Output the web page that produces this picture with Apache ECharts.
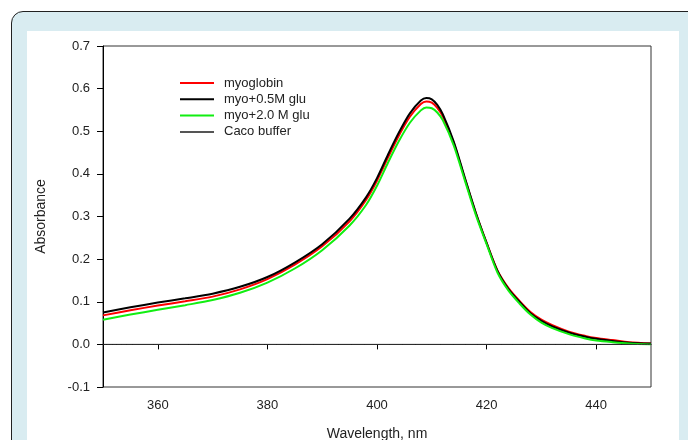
<!DOCTYPE html>
<html>
<head>
<meta charset="utf-8">
<script src="https://cdn.jsdelivr.net/npm/echarts@6/dist/echarts.min.js"></script>
<style>
  html, body { margin: 0; padding: 0; background: #fff; overflow: hidden; }
  .frame {
    position: absolute; left: 11px; top: 11px; width: 720px; height: 480px;
    border: 1.5px solid #222; border-radius: 12px; background: #d9ecf1;
  }
  .panel {
    position: absolute; left: 27px; top: 31px; width: 652px; height: 420px; background: #fff;
  }
  #chart { position: absolute; left: 0; top: 0; width: 688px; height: 440px; }
</style>
</head>
<body>
<div class="frame"></div>
<div class="panel"></div>
<div id="chart"></div>
<script>
// wavelength (nm)
const wavelengths = [350, 355, 360, 365, 370, 375, 380, 385, 390, 395, 398, 400, 402, 404, 406, 408, 409, 410,
  411, 412, 414, 416, 418, 420, 422, 424, 426, 428, 430, 432, 435, 438, 440, 443, 446, 450];

const myoglobin = [0.068, 0.080, 0.091, 0.101, 0.112, 0.129, 0.153, 0.187, 0.230, 0.289, 0.339, 0.384, 0.438,
  0.490, 0.534, 0.564, 0.570, 0.567, 0.555, 0.535, 0.473, 0.390, 0.309, 0.238, 0.173, 0.132, 0.102, 0.076,
  0.058, 0.045, 0.030, 0.020, 0.015, 0.010, 0.005, 0.002];

const myo05 = [0.075, 0.087, 0.098, 0.108, 0.119, 0.135, 0.158, 0.192, 0.235, 0.295, 0.345, 0.390, 0.445,
  0.497, 0.542, 0.572, 0.578, 0.575, 0.562, 0.540, 0.476, 0.392, 0.310, 0.238, 0.172, 0.130, 0.100, 0.073,
  0.055, 0.042, 0.028, 0.018, 0.013, 0.008, 0.004, 0.002];

const myo20 = [0.058, 0.070, 0.081, 0.092, 0.104, 0.121, 0.145, 0.178, 0.221, 0.279, 0.327, 0.372, 0.426,
  0.477, 0.520, 0.549, 0.556, 0.554, 0.544, 0.526, 0.467, 0.386, 0.305, 0.235, 0.168, 0.126, 0.096, 0.070,
  0.051, 0.038, 0.024, 0.014, 0.009, 0.005, 0.002, 0.000];

const bufferWl = [350, 450];
const bufferAbs = [0, 0];

const xTicks = [360, 380, 400, 420, 440];

const pairs = (xs, ys) => xs.map((x, i) => [x, ys[i]]);

const font = 'Liberation Sans, Arial, sans-serif';
const chart = echarts.init(document.getElementById('chart'), null, { renderer: 'canvas' });

const lineSeries = (name, xs, ys, color, width) => ({
  name: name,
  type: 'line',
  data: pairs(xs, ys),
  showSymbol: false,
  symbol: 'none',
  smooth: 0.3,
  lineStyle: { color: color, width: width },
  itemStyle: { color: color },
  animation: false
});

chart.setOption({
  backgroundColor: 'transparent',
  grid: { left: 103, right: 37, top: 46, bottom: 53, outerBoundsMode: 'none', containLabel: false,
    show: true, borderColor: '#333', borderWidth: 1 },
  legend: {
    orient: 'vertical', left: 180, top: 76, padding: 0,
    icon: 'rect', itemWidth: 34, itemHeight: 2, itemGap: 2.3,
    textStyle: { fontFamily: font, fontSize: 13, color: '#222', lineHeight: 14, padding: [0, 0, 0, 5] },
    data: ['myoglobin', 'myo+0.5M glu', 'myo+2.0 M glu',
      { name: 'Caco buffer', itemStyle: { color: '#555' } }]
  },
  xAxis: {
    type: 'value', min: 350, max: 450,
    name: 'Wavelength, nm', nameLocation: 'middle', nameGap: 40,
    nameTextStyle: { fontFamily: font, fontSize: 14, color: '#222' },
    axisLine: { lineStyle: { color: '#000', width: 1 } },
    axisTick: { show: true, inside: false, length: 5, lineStyle: { color: '#000' }, customValues: xTicks },
    axisLabel: { customValues: xTicks, margin: 12, fontFamily: font, fontSize: 13, color: '#222' },
    splitLine: { show: false }
  },
  yAxis: {
    type: 'value', min: -0.1, max: 0.7, interval: 0.1,
    name: 'Absorbance', nameLocation: 'middle', nameGap: 55, nameRotate: 90,
    nameTextStyle: { fontFamily: font, fontSize: 14, color: '#222' },
    axisLine: { show: true, lineStyle: { color: '#000', width: 1 } },
    axisTick: { show: true, inside: false, length: 6, lineStyle: { color: '#000' } },
    axisLabel: { margin: 13, fontFamily: font, fontSize: 13, color: '#222',
      formatter: v => v.toFixed(1) },
    splitLine: { show: false }
  },
  series: [
    lineSeries('myoglobin', wavelengths, myoglobin, '#ff0000', 2),
    lineSeries('myo+0.5M glu', wavelengths, myo05, '#000000', 2),
    lineSeries('myo+2.0 M glu', wavelengths, myo20, '#11ee11', 2),
    lineSeries('Caco buffer', bufferWl, bufferAbs, '#333333', 1)
  ]
});
</script>
</body>
</html>
